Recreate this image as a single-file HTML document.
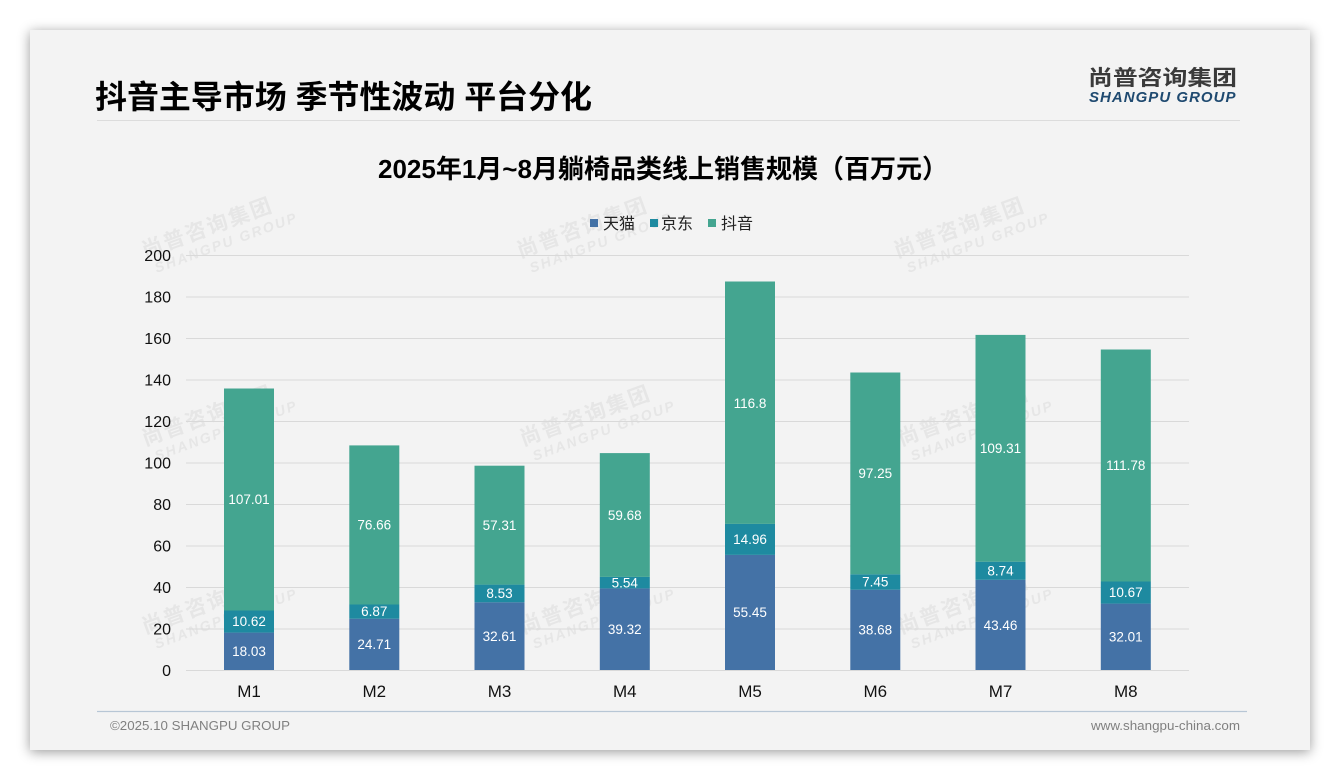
<!DOCTYPE html>
<html><head><meta charset="utf-8"><style>
html,body{margin:0;padding:0;background:#fff;}
svg{display:block;}
text{font-family:"Liberation Sans","Noto Sans CJK SC",sans-serif;}
</style></head><body>
<svg width="1340" height="780" viewBox="0 0 1340 780" xmlns="http://www.w3.org/2000/svg">
<defs>
<filter id="sh" x="-5%" y="-5%" width="110%" height="112%">
<feDropShadow dx="0" dy="2" stdDeviation="6" flood-color="#000" flood-opacity="0.4"/>
</filter>
<g id="wm">
<text x="0" y="0" font-size="21" font-weight="bold" fill="#e6e6e6" font-family="Noto Sans CJK SC, sans-serif" letter-spacing="2">尚普咨询集团</text>
<text x="6" y="18" font-size="14" font-weight="bold" font-style="italic" fill="#e6e6e6" letter-spacing="2">SHANGPU GROUP</text>
</g>
</defs>
<rect x="30" y="30" width="1280" height="720" fill="#f3f3f3" filter="url(#sh)"/>

<!-- header -->
<text x="95" y="108" font-size="32" font-weight="bold" fill="#000" textLength="497" lengthAdjust="spacingAndGlyphs">抖音主导市场 季节性波动 平台分化</text>
<text x="1088" y="85" font-size="21" font-weight="bold" fill="#3a3a3a" textLength="149" lengthAdjust="spacingAndGlyphs">尚普咨询集团</text>
<text x="1089" y="102" font-size="15" font-weight="bold" font-style="italic" fill="#1f4a70" textLength="148" lengthAdjust="spacing" letter-spacing="1.5">SHANGPU GROUP</text>
<line x1="97" y1="120.5" x2="1240" y2="120.5" stroke="#dcdcdc" stroke-width="1"/>

<!-- watermarks -->
<g transform="translate(145,258) rotate(-20)"><use href="#wm"/></g>
<g transform="translate(520,258) rotate(-20)"><use href="#wm"/></g>
<g transform="translate(897,258) rotate(-20)"><use href="#wm"/></g>
<g transform="translate(145,446) rotate(-20)"><use href="#wm"/></g>
<g transform="translate(523,446) rotate(-20)"><use href="#wm"/></g>
<g transform="translate(901,446) rotate(-20)"><use href="#wm"/></g>
<g transform="translate(145,634) rotate(-20)"><use href="#wm"/></g>
<g transform="translate(523,634) rotate(-20)"><use href="#wm"/></g>
<g transform="translate(901,634) rotate(-20)"><use href="#wm"/></g>

<!-- chart title -->
<text x="378" y="178" font-size="26" font-weight="bold" fill="#000" textLength="570" lengthAdjust="spacingAndGlyphs">2025年1月~8月躺椅品类线上销售规模（百万元）</text>

<!-- legend -->
<rect x="590" y="219" width="8" height="8" fill="#4472a6"/>
<text x="603" y="229" font-size="16" fill="#222">天猫</text>
<rect x="650" y="219" width="8" height="8" fill="#1e8aa0"/>
<text x="661" y="229" font-size="16" fill="#222">京东</text>
<rect x="708" y="219" width="8" height="8" fill="#44a590"/>
<text x="721" y="229" font-size="16" fill="#222">抖音</text>

<!-- gridlines -->
<g stroke="#d9d9d9" stroke-width="1">
<line x1="186" y1="255.5" x2="1189" y2="255.5"/>
<line x1="186" y1="297" x2="1189" y2="297"/>
<line x1="186" y1="338.5" x2="1189" y2="338.5"/>
<line x1="186" y1="380" x2="1189" y2="380"/>
<line x1="186" y1="421.5" x2="1189" y2="421.5"/>
<line x1="186" y1="463" x2="1189" y2="463"/>
<line x1="186" y1="504.5" x2="1189" y2="504.5"/>
<line x1="186" y1="546" x2="1189" y2="546"/>
<line x1="186" y1="587.5" x2="1189" y2="587.5"/>
<line x1="186" y1="629" x2="1189" y2="629"/>
<line x1="186" y1="670.5" x2="1189" y2="670.5"/>
</g>
<!-- y labels -->
<g font-size="16" fill="#111" text-anchor="end">
<text x="171" y="261">200</text>
<text x="171" y="302.5">180</text>
<text x="171" y="344">160</text>
<text x="171" y="385.5">140</text>
<text x="171" y="427">120</text>
<text x="171" y="468.5">100</text>
<text x="171" y="510">80</text>
<text x="171" y="551.5">60</text>
<text x="171" y="593">40</text>
<text x="171" y="634.5">20</text>
<text x="171" y="676">0</text>
</g>

<!-- bars -->
<g font-size="13.5" fill="#fff" text-anchor="middle">
<!-- M1 -->
<rect x="224" y="632.6" width="50" height="37.4" fill="#4472a6"/>
<rect x="224" y="610.5" width="50" height="22.1" fill="#1e8aa0"/>
<rect x="224" y="388.5" width="50" height="222.0" fill="#44a590"/>
<text x="249" y="656">18.03</text><text x="249" y="626">10.62</text><text x="249" y="504">107.01</text>
<!-- M2 -->
<rect x="349.3" y="618.7" width="50" height="51.3" fill="#4472a6"/>
<rect x="349.3" y="604.5" width="50" height="14.2" fill="#1e8aa0"/>
<rect x="349.3" y="445.4" width="50" height="159.1" fill="#44a590"/>
<text x="374.3" y="649">24.71</text><text x="374.3" y="616">6.87</text><text x="374.3" y="529.5">76.66</text>
<!-- M3 -->
<rect x="474.5" y="602.3" width="50" height="67.7" fill="#4472a6"/>
<rect x="474.5" y="584.6" width="50" height="17.7" fill="#1e8aa0"/>
<rect x="474.5" y="465.7" width="50" height="118.9" fill="#44a590"/>
<text x="499.5" y="641">32.61</text><text x="499.5" y="598">8.53</text><text x="499.5" y="530">57.31</text>
<!-- M4 -->
<rect x="599.8" y="588.4" width="50" height="81.6" fill="#4472a6"/>
<rect x="599.8" y="576.9" width="50" height="11.5" fill="#1e8aa0"/>
<rect x="599.8" y="453.1" width="50" height="123.8" fill="#44a590"/>
<text x="624.8" y="634">39.32</text><text x="624.8" y="587.5">5.54</text><text x="624.8" y="520">59.68</text>
<!-- M5 -->
<rect x="725" y="554.9" width="50" height="115.1" fill="#4472a6"/>
<rect x="725" y="523.9" width="50" height="31.0" fill="#1e8aa0"/>
<rect x="725" y="281.5" width="50" height="242.4" fill="#44a590"/>
<text x="750" y="617">55.45</text><text x="750" y="544">14.96</text><text x="750" y="408">116.8</text>
<!-- M6 -->
<rect x="850.3" y="589.7" width="50" height="80.3" fill="#4472a6"/>
<rect x="850.3" y="574.3" width="50" height="15.4" fill="#1e8aa0"/>
<rect x="850.3" y="372.5" width="50" height="201.8" fill="#44a590"/>
<text x="875.3" y="634.5">38.68</text><text x="875.3" y="586.5">7.45</text><text x="875.3" y="478">97.25</text>
<!-- M7 -->
<rect x="975.5" y="579.8" width="50" height="90.2" fill="#4472a6"/>
<rect x="975.5" y="561.7" width="50" height="18.1" fill="#1e8aa0"/>
<rect x="975.5" y="334.9" width="50" height="226.8" fill="#44a590"/>
<text x="1000.5" y="630">43.46</text><text x="1000.5" y="575.5">8.74</text><text x="1000.5" y="453">109.31</text>
<!-- M8 -->
<rect x="1100.8" y="603.6" width="50" height="66.4" fill="#4472a6"/>
<rect x="1100.8" y="581.5" width="50" height="22.1" fill="#1e8aa0"/>
<rect x="1100.8" y="349.5" width="50" height="232.0" fill="#44a590"/>
<text x="1125.8" y="641.5">32.01</text><text x="1125.8" y="597">10.67</text><text x="1125.8" y="470">111.78</text>
</g>

<!-- category labels -->
<g font-size="17" fill="#111" text-anchor="middle">
<text x="249" y="697">M1</text>
<text x="374.3" y="697">M2</text>
<text x="499.5" y="697">M3</text>
<text x="624.8" y="697">M4</text>
<text x="750" y="697">M5</text>
<text x="875.3" y="697">M6</text>
<text x="1000.5" y="697">M7</text>
<text x="1125.8" y="697">M8</text>
</g>

<!-- footer -->
<line x1="97" y1="711.5" x2="1247" y2="711.5" stroke="#b7c6d5" stroke-width="1.2"/>
<text x="110" y="730" font-size="13" fill="#808080" textLength="180" lengthAdjust="spacingAndGlyphs">©2025.10 SHANGPU GROUP</text>
<text x="1091" y="730" font-size="13" fill="#808080" textLength="149" lengthAdjust="spacingAndGlyphs">www.shangpu-china.com</text>
</svg>
</body></html>
